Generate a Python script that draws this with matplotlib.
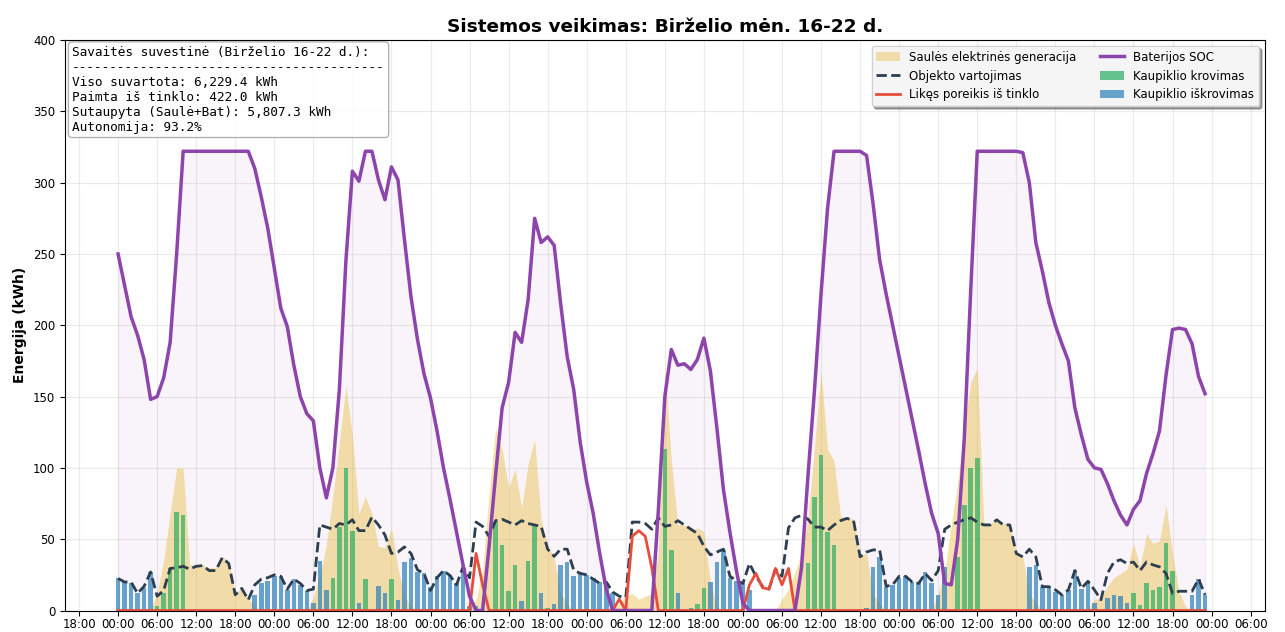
import numpy as np
import pandas as pd
import matplotlib.pyplot as plt
import matplotlib.dates as mdates

# hourly data, 2025-06-16 00:00 .. 2025-06-22 23:00
start = "2025-06-16 00:00"

soc = [
    250, 228, 206, 193, 176, 148, 150, 163, 188, 250, 322, 322, 322, 322, 322, 322, 322, 322, 322, 322, 322, 310, 290, 268,
    240, 212, 199, 172, 150, 138, 133, 100, 79, 100, 155, 245, 308, 301, 322, 322, 302, 288, 311, 302, 260, 220, 190, 166,
    149, 126, 100, 78, 55, 32, 10, 0, 0, 45, 95, 142, 160, 195, 188, 218, 275, 258, 262, 256, 215, 178, 155, 118,
    90, 68, 40, 15, 0, 0, 0, 0, 0, 0, 0, 70, 150, 183, 172, 173, 169, 176, 191, 168, 128, 85, 55, 28,
    5, 0, 0, 0, 0, 0, 0, 0, 0, 30, 95, 155, 222, 282, 322, 322, 322, 322, 322, 319, 285, 246, 222, 200,
    178, 156, 134, 112, 89, 68, 54, 19, 18, 50, 120, 225, 322, 322, 322, 322, 322, 322, 322, 321, 300, 258, 238, 216,
    200, 187, 175, 142, 123, 106, 100, 99, 89, 77, 67, 60, 71, 77, 96, 110, 126, 165, 197, 198, 197, 187, 164, 152,
]

consumption = [
    22.5, 20, 20, 12, 17, 27, 10, 14, 29.5, 30, 31, 29, 31, 31.5, 28, 28, 37, 33, 11, 15.5, 7.5, 18, 22, 23,
    25, 24, 15, 22, 19, 14, 15, 60, 58.5, 57, 61, 60, 63.6, 56, 56, 65.5, 60, 53, 40, 41, 44.6, 40, 28.5, 26,
    14, 23, 28, 24.5, 18, 30.6, 23, 62, 59, 52, 63, 64, 62, 60, 63, 61, 60, 59, 43, 38, 43, 43, 28.5, 26,
    25, 22, 19, 20, 13, 10, 9, 62, 62, 61, 57, 65, 59, 60, 63, 60, 57, 54, 45, 39, 41, 43, 24, 21,
    19, 33, 24, 17, 15, 29, 24, 58, 65, 66.7, 64, 58.5, 58.5, 56, 60, 63, 64.6, 63, 37.6, 41, 42.5, 42.5, 17, 18,
    24, 24, 20, 19, 26, 21, 28, 57, 60, 62, 63.6, 65, 62, 60, 60, 63.6, 60, 60, 40, 37.6, 43, 37.6, 16.7, 16.7,
    14.5, 11, 14.5, 28, 15.5, 20.5, 14.5, 7.5, 26, 34, 35.6, 33, 34, 28, 34, 32, 30.6, 26, 12, 13.5, 13.5, 13.5, 22, 11,
]

solar = [
    0, 0, 0, 0, 0, 0, 12, 35, 68, 100, 100, 32, 32, 32, 30, 30, 38, 34, 12, 16, 8, 3, 0, 0,
    0, 0, 0, 0, 0, 0, 9, 25, 46, 80, 118, 158, 122, 68, 80, 68, 45, 44, 58, 30, 10, 3, 0, 0,
    0, 0, 0, 0, 0, 0, 0, 8, 28, 82, 128, 113, 86, 99, 72, 103, 120, 63, 46, 37, 12, 5, 0, 0,
    0, 0, 0, 0, 0, 5, 10, 12, 8, 10, 12, 40, 172, 105, 60, 60, 56, 58, 55, 20, 3, 0, 0, 0,
    0, 0, 0, 0, 0, 0, 8, 15, 27, 40, 65, 115, 168, 113, 105, 66, 65, 64, 39, 40, 12, 5, 0, 0,
    0, 0, 0, 0, 0, 0, 12, 27, 60, 90, 130, 160, 170, 62, 61, 64, 61, 61, 41, 38, 12, 5, 0, 0,
    0, 0, 0, 0, 0, 0, 8, 8, 17, 23, 26, 29, 47, 31, 54, 47, 49, 74, 40, 13, 3, 0, 0, 0,
]

grid_import = [
    0, 0, 0, 0, 0, 0, 0, 0, 0, 0, 0, 0, 0, 0, 0, 0, 0, 0, 0, 0, 0, 0, 0, 0,
    0, 0, 0, 0, 0, 0, 0, 0, 0, 0, 0, 0, 0, 0, 0, 0, 0, 0, 0, 0, 0, 0, 0, 0,
    0, 0, 0, 0, 0, 0, 0, 40, 18, 0, 0, 0, 0, 0, 0, 0, 0, 0, 0, 0, 0, 0, 0, 0,
    0, 0, 0, 0, 0, 8, 0, 52, 56, 52, 30, 0, 0, 0, 0, 0, 0, 0, 0, 0, 0, 0, 0, 0,
    0, 18, 26, 16, 15, 29.5, 18, 29.5, 0, 0, 0, 0, 0, 0, 0, 0, 0, 0, 0, 0, 0, 0, 0, 0,
    0, 0, 0, 0, 0, 0, 0, 0, 0, 0, 0, 0, 0, 0, 0, 0, 0, 0, 0, 0, 0, 0, 0, 0,
    0, 0, 0, 0, 0, 0, 0, 0, 0, 0, 0, 0, 0, 0, 0, 0, 0, 0, 0, 0, 0, 0, 0, 0,
]

charge = [
    0, 0, 0, 0, 0, 0, 3, 12, 30, 69, 67, 0, 0, 0, 0, 0, 0, 0, 0, 0, 0, 0, 0, 0,
    0, 0, 0, 0, 0, 0, 0, 0, 0, 22.5, 58.5, 100, 56, 0, 22, 0, 0, 0, 22, 0, 0, 0, 0, 0,
    0, 0, 0, 0, 0, 0, 0, 0, 0, 0, 62, 46, 14, 32, 0, 35, 60, 0, 2, 0, 0, 0, 0, 0,
    0, 0, 0, 0, 0, 0, 0, 0, 0, 0, 0, 0, 113, 42.5, 0, 0.5, 0, 4.4, 16, 0, 0, 0, 0, 0,
    0, 0, 0, 0, 0, 0, 0, 0, 0, 0, 33, 79.5, 109, 55, 46, 0, 0, 0, 0, 0, 0, 0, 0, 0,
    0, 0, 0, 0, 0, 0, 0, 0, 0, 37.6, 74, 100, 107, 0, 0, 0, 0, 0, 0, 0, 0, 0, 0, 0,
    0, 0, 0, 0, 0, 0, 0, 0, 0, 0, 0, 0, 12, 3.6, 19, 14.5, 16.7, 47, 27.5, 1, 0, 0, 0, 0,
]

discharge = [
    22.5, 20, 19.5, 12, 16, 27, 0, 0, 0, 0, 0, 0, 0, 0, 0, 0, 0, 0, 0, 0, 0, 11, 19, 21,
    24.5, 24, 14.5, 22, 18, 14, 5, 35, 14.5, 0, 0, 0, 0, 5, 0, 0, 17, 12, 0, 7.5, 34, 37, 27, 26,
    16.5, 24, 28, 25, 19, 29.5, 3, 3, 0, 0, 0, 0, 0, 0, 7, 0, 0, 12, 0, 4.4, 32, 34, 24, 27,
    25, 23, 20, 19, 12, 0, 0, 0, 0, 0, 0, 0, 0, 0, 12, 0, 2, 0, 0, 20, 34, 42.5, 22.5, 20.5,
    19, 14.5, 0, 0, 0, 0, 0, 0, 0, 0, 0, 0, 0, 0, 0, 0, 0, 0, 0, 2, 30.6, 37.6, 16.7, 18,
    22.5, 24.5, 20, 20, 27, 19.5, 11, 30.5, 0, 0, 0, 0, 0, 0, 0, 0, 0, 0, 0, 0, 30.6, 32, 16.7, 17.5,
    13, 11, 14.5, 28.5, 15, 21, 5, 0, 8.5, 11, 10.5, 5, 0, 0, 0, 0, 0, 0, 0, 0, 0, 11, 22, 11,
]

summary_lines = [
    "Savaitės suvestinė (Birželio 16-22 d.):",
    "-" * 41,
    "Viso suvartota: 6,229.4 kWh",
    "Paimta iš tinklo: 422.0 kWh",
    "Sutaupyta (Saulė+Bat): 5,807.3 kWh",
    "Autonomija: 93.2%",
]

C_SOLAR = "#e8b830"
C_CONS = "#2c3e50"
C_GRID = "#e74c3c"
C_SOC = "#8e44ad"
C_CHG = "#27ae60"
C_DIS = "#2980b9"

t = pd.date_range(start, periods=len(soc), freq="h")
bar_w = 0.7 / 24

fig = plt.figure(figsize=(12.85, 6.32), dpi=100)
ax = fig.add_axes([0.0506, 0.034, 0.9338, 0.9027])

ax.fill_between(t, soc, 0, color=C_SOC, alpha=0.06, zorder=1)
ax.fill_between(t, solar, 0, color=C_SOLAR, alpha=0.4, linewidth=0,
                label="Saulės elektrinės generacija", zorder=2)
ax.bar(t, charge, width=bar_w, color=C_CHG, alpha=0.7, label="Kaupiklio krovimas", zorder=3)
ax.bar(t, discharge, width=bar_w, color=C_DIS, alpha=0.7, label="Kaupiklio iškrovimas", zorder=3)
ax.plot(t, consumption, color=C_CONS, linestyle="--", linewidth=2, label="Objekto vartojimas", zorder=4)
ax.plot(t, grid_import, color=C_GRID, linewidth=2, label="Likęs poreikis iš tinklo", zorder=4)
ax.plot(t, soc, color=C_SOC, linewidth=2.5, label="Baterijos SOC", zorder=5)

t0 = t[0]
ax.set_xlim(t0 - pd.Timedelta(hours=8.15), t0 + pd.Timedelta(hours=176.2))
ax.set_ylim(0, 400)
ax.xaxis.set_major_locator(mdates.HourLocator(byhour=[0, 6, 12, 18]))
ax.xaxis.set_major_formatter(mdates.DateFormatter("%H:%M"))
ax.tick_params(labelsize=8.5)
ax.tick_params(axis="x", pad=2)

ax.set_title("Sistemos veikimas: Birželio mėn. 16-22 d.", fontsize=13.3, fontweight="bold")
ax.set_ylabel("Energija (kWh)", fontsize=10, fontweight="bold")
ax.grid(True, alpha=0.25)

handles, labels = ax.get_legend_handles_labels()
order = ["Saulės elektrinės generacija", "Objekto vartojimas", "Likęs poreikis iš tinklo",
         "Baterijos SOC", "Kaupiklio krovimas", "Kaupiklio iškrovimas"]
hmap = dict(zip(labels, handles))
ax.legend([hmap[k] for k in order], order, loc="upper right", ncol=2, fontsize=8.5,
          frameon=True, shadow=True, fancybox=True, framealpha=0.9)

ax.text(0.006, 0.99, "\n".join(summary_lines), transform=ax.transAxes, va="top", ha="left",
        family="monospace", fontsize=9.2,
        bbox=dict(boxstyle="round", facecolor="white", edgecolor="#aaaaaa", alpha=0.9))

fig.savefig("out.png", dpi=100)
